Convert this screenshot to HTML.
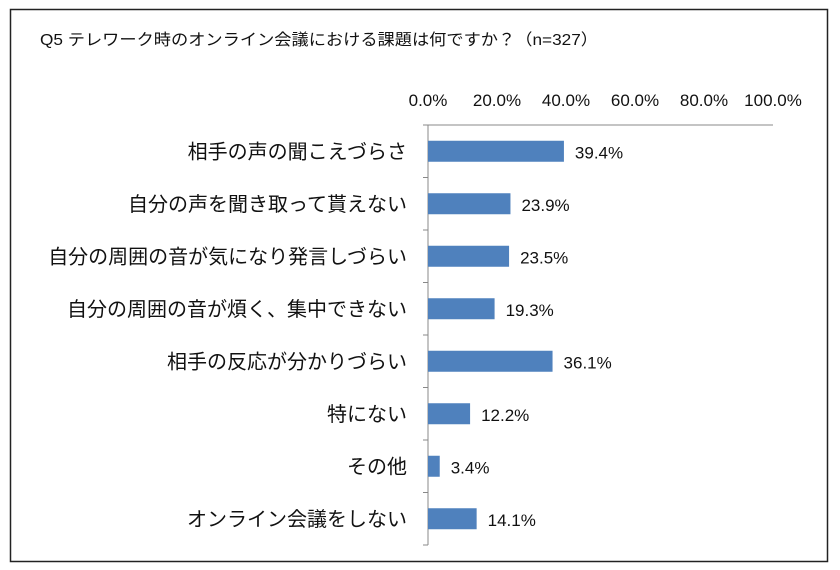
<!DOCTYPE html>
<html><head><meta charset="utf-8">
<style>
html,body{margin:0;padding:0;background:#fff;}
svg{display:block;font-family:"Liberation Sans","Noto Sans CJK JP",sans-serif;}
</style></head>
<body>
<svg id="chart" width="840" height="570" viewBox="0 0 840 570">
<rect x="0" y="0" width="840" height="570" fill="#fff"/>
<rect x="10.5" y="9.5" width="817" height="552" fill="none" stroke="#222" stroke-width="1.5"/>
<text x="40" y="45" font-size="16" textLength="558" lengthAdjust="spacingAndGlyphs" fill="#111">Q5 テレワーク時のオンライン会議における課題は何ですか？（n=327）</text>
<g id="axis"></g>
<g id="bars"></g>
</svg>
<script>
const categories = ["相手の声の聞こえづらさ","自分の声を聞き取って貰えない","自分の周囲の音が気になり発言しづらい","自分の周囲の音が煩く、集中できない","相手の反応が分かりづらい","特にない","その他","オンライン会議をしない"];
const values = [39.4,23.9,23.5,19.3,36.1,12.2,3.4,14.1];
const valueLabels = ["39.4%","23.9%","23.5%","19.3%","36.1%","12.2%","3.4%","14.1%"];
const ticks = [0,20,40,60,80,100];
const tickLabels = ["0.0%","20.0%","40.0%","60.0%","80.0%","100.0%"];

const NS="http://www.w3.org/2000/svg";
const x0=428, x1=773, yTop=125, yBot=545;
const band=(yBot-yTop)/categories.length;
function xs(v){return x0+(v/100)*(x1-x0);}
function yc(i){return yTop+band*(i+0.5);}
function mk(tag,attrs,parent){const e=document.createElementNS(NS,tag);for(const k in attrs)e.setAttribute(k,attrs[k]);parent.appendChild(e);return e;}
const axis=document.getElementById('axis'), bars=document.getElementById('bars');

let l=mk('line',{x1:x0,y1:yTop,x2:x0,y2:yBot,stroke:'#888','stroke-width':1},axis);


l=mk('line',{x1:x0,y1:yTop,x2:x1,y2:yTop,stroke:'#888','stroke-width':1},axis);



ticks.forEach((t,i)=>{
  const tx=mk('text',{x:xs(t),y:106,'font-size':17,'text-anchor':'middle',fill:'#111'},axis);
  tx.textContent=tickLabels[i];
  
  
});
for(let i=0;i<=categories.length;i++){
  const tk=mk('line',{x1:x0-5,y1:yTop+band*i,x2:x0,y2:yTop+band*i,stroke:'#888'},axis);
  
  
}
categories.forEach((c,i)=>{
  const y=yc(i);
  const lb=mk('text',{x:407,y:y+7,'font-size':20,'text-anchor':'end',fill:'#111'},bars);
  lb.textContent=c;
  
  
  const r=mk('rect',{x:x0,y:y-10.5,width:xs(values[i])-x0,height:21,fill:'#4f81bd'},bars);
  
  
  const v=mk('text',{x:xs(values[i])+11,y:y+7,'font-size':17,fill:'#111'},bars);
  v.textContent=valueLabels[i];
  
  
});
</script>
</body></html>
